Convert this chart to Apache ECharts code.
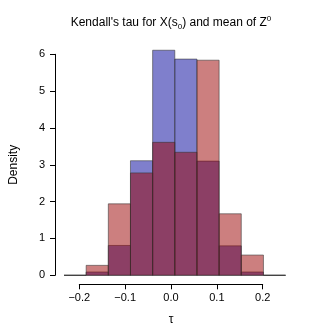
<!DOCTYPE html>
<html>
<head>
<meta charset="utf-8">
<script src="https://cdn.jsdelivr.net/npm/echarts@6/dist/echarts.min.js"></script>
<style>
  html, body { margin: 0; padding: 0; background: #fff; }
  #chart { width: 332px; height: 332px; }
</style>
</head>
<body>
<div id="chart"></div>
<script>
// histogram bins (left edges), width 0.05
const binEdges = [-0.25, -0.2, -0.15, -0.1, -0.05, 0, 0.05, 0.1, 0.15, 0.2, 0.25];
const blueDensity = [0, 0.09, 0.81, 3.11, 6.11, 5.87, 3.10, 0.80, 0.09, 0];
const redDensity = [0, 0.27, 1.94, 2.78, 3.61, 3.34, 5.84, 1.67, 0.55, 0];
const yTicks = [0, 1, 2, 3, 4, 5, 6];
const xTicks = [-0.2, -0.1, 0, 0.1, 0.2];

const chart = echarts.init(document.getElementById('chart'));
const font = 'Liberation Sans, Arial, sans-serif';

function binData(dens) {
    return dens.map((d, i) => [binEdges[i], binEdges[i + 1], d]);
}

function renderBin(fill) {
    return function (params, api) {
        const p0 = api.coord([api.value(0), 0]);
        const p1 = api.coord([api.value(1), api.value(2)]);
        return {
            type: 'rect',
            shape: { x: p0[0], y: p1[1], width: p1[0] - p0[0], height: p0[1] - p1[1] },
            style: { fill: fill, stroke: 'rgba(50,50,50,0.55)', lineWidth: 1 }
        };
    };
}

const fmt = v => {
    const s = Math.abs(v).toFixed(1);
    return v < -1e-9 ? '\u2212' + s : s;
};

chart.setOption({
    animation: false,
    title: {
        text: "Kendall's tau for X(s{sub|0}) and mean of Z{sup|0}",
        left: 166,
        textAlign: 'center',
        top: 10,
        textStyle: {
            fontFamily: font, fontSize: 12, fontWeight: 'normal', color: '#000', lineHeight: 16,
            rich: {
                sub: { fontFamily: font, fontSize: 8, verticalAlign: 'bottom', lineHeight: 16, padding: [6, 0, 0, 0] },
                sup: { fontFamily: font, fontSize: 8, verticalAlign: 'top', lineHeight: 16, padding: [0, 0, 6, 0] }
            }
        }
    },
    grid: [
        { left: 56.4, width: 229.2, top: 54.3, height: 221, containLabel: false },
        { left: 79.3, width: 183.4, top: 54.3, height: 221, containLabel: false }
    ],
    xAxis: [
        { gridIndex: 0, type: 'value', min: -0.25, max: 0.25, show: false },
        {
            gridIndex: 1, type: 'value', min: -0.2, max: 0.2, interval: 0.1,
            offset: 9,
            axisLine: { show: true, onZero: false, lineStyle: { color: '#000', width: 1 } },
            axisTick: { show: true, length: 5, lineStyle: { color: '#000' } },
            splitLine: { show: false },
            axisLabel: { formatter: fmt, fontFamily: font, fontSize: 11, color: '#000', margin: 8, showMinLabel: true, showMaxLabel: true },
            name: '\u03c4', nameLocation: 'middle', nameGap: 29,
            nameTextStyle: { fontFamily: font, fontSize: 12, color: '#000' }
        }
    ],
    yAxis: [
        {
            gridIndex: 0, type: 'value', min: 0, max: 6, interval: 1,
            offset: 9,
            axisLine: { show: true, onZero: false, lineStyle: { color: '#000', width: 1 } },
            axisTick: { show: true, length: 5, lineStyle: { color: '#000' } },
            splitLine: { show: false },
            axisLabel: { fontFamily: font, fontSize: 11, color: '#000', margin: 10 },
            name: 'Density', nameLocation: 'middle', nameGap: 35, nameRotate: 90,
            nameTextStyle: { fontFamily: font, fontSize: 12, color: '#000' }
        },
        { gridIndex: 1, type: 'value', min: 0, max: 6, show: false }
    ],
    series: [
        {
            type: 'custom', xAxisIndex: 0, yAxisIndex: 0,
            renderItem: renderBin('rgba(0,0,153,0.5)'),
            data: binData(blueDensity), clip: false, z: 2
        },
        {
            type: 'custom', xAxisIndex: 0, yAxisIndex: 0,
            renderItem: renderBin('rgba(153,0,0,0.5)'),
            data: binData(redDensity), clip: false, z: 3
        }
    ]
});
</script>
</body>
</html>
